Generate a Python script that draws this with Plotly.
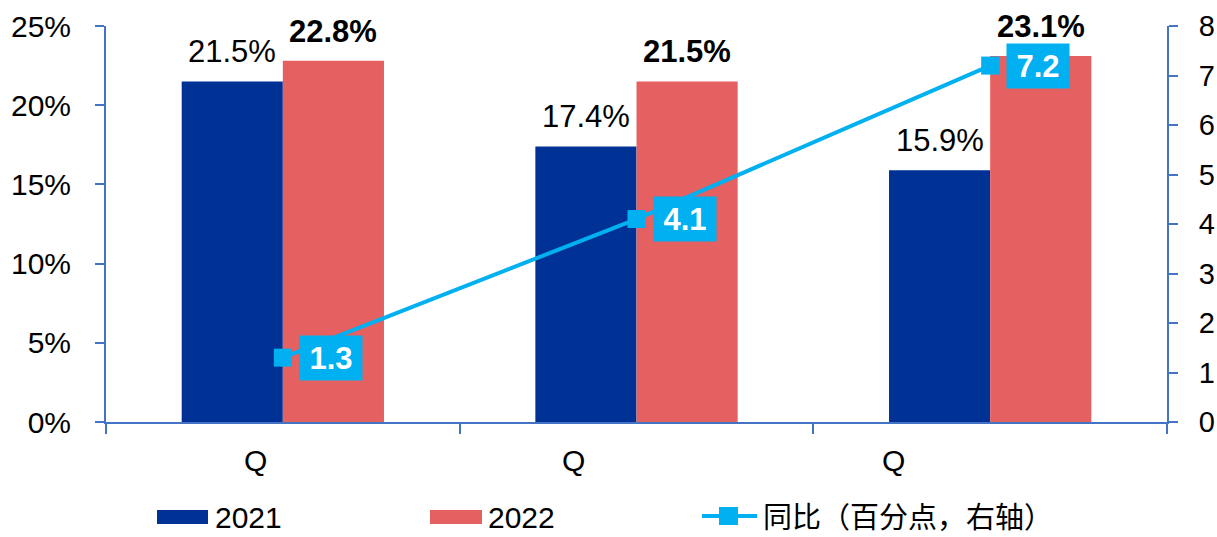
import plotly.graph_objects as go

# Data
quarters = ["Q", "Q", "Q"]
share_2021 = [21.5, 17.4, 15.9]
share_2022 = [22.8, 21.5, 23.1]
yoy_pp = [1.3, 4.1, 7.2]
series_names = ["2021", "2022", "同比（百分点，右轴）"]

BLUE = "#003296"
RED = "#E46061"
CYAN = "#00B0F0"
AXIS = "#4472C4"
FONT = "Liberation Sans, Arial, Noto Sans CJK SC, sans-serif"
CJK = "Noto Sans CJK SC, Liberation Sans, sans-serif"

x = list(range(len(quarters)))

fig = go.Figure()
fig.add_trace(go.Bar(x=x, y=share_2021, name=series_names[0], marker=dict(color=BLUE, line=dict(width=0)),
                     showlegend=False))
fig.add_trace(go.Bar(x=x, y=share_2022, name=series_names[1], marker=dict(color=RED, line=dict(width=0)),
                     showlegend=False))
fig.add_trace(go.Scatter(x=x, y=yoy_pp, name=series_names[2], yaxis="y2", mode="lines+markers",
                         line=dict(color=CYAN, width=4),
                         marker=dict(symbol="square", size=18, color=CYAN),
                         showlegend=False))

annotations = []
bar_half = 0.5 * (1 - 0.428) / 2  # centre offset of each bar within a group

for i, (a, b) in enumerate(zip(share_2021, share_2022)):
    annotations.append(dict(x=i - bar_half, y=a, xref="x", yref="y", text=f"{a:.1f}%",
                            showarrow=False, yanchor="bottom", yshift=10,
                            font=dict(family=FONT, size=31, color="#000000")))
    annotations.append(dict(x=i + bar_half, y=b, xref="x", yref="y", text=f"<b>{b:.1f}%</b>",
                            showarrow=False, yanchor="bottom", yshift=10,
                            font=dict(family=FONT, size=31, color="#000000")))

for i, v in enumerate(yoy_pp):
    annotations.append(dict(x=i, y=v, xref="x", yref="y2", text=f"<b>{v:.1f}</b>",
                            showarrow=False, xshift=48, width=62, height=44,
                            bgcolor=CYAN, borderpad=0,
                            font=dict(family=FONT, size=31, color="#FFFFFF")))

# Category labels under the axis
label_shift = [-27, -63, -97]
for i, q in enumerate(quarters):
    annotations.append(dict(x=i, y=0, xref="x", yref="paper", text=q, showarrow=False,
                            xshift=label_shift[i], yshift=-38, yanchor="middle",
                            font=dict(family=FONT, size=30, color="#000000")))

# Legend (drawn in paper space)
def py(pix):
    return 1 - (pix - 26) / (422 - 26)

def px(pix):
    return (pix - 106) / (1167 - 106)

shapes = [
    dict(type="rect", xref="paper", yref="paper", x0=px(157), x1=px(208),
         y0=py(510), y1=py(524), fillcolor=BLUE, line=dict(width=0)),
    dict(type="rect", xref="paper", yref="paper", x0=px(430), x1=px(482),
         y0=py(510), y1=py(524), fillcolor=RED, line=dict(width=0)),
    dict(type="line", xref="paper", yref="paper", x0=px(702), x1=px(757),
         y0=py(516), y1=py(516), line=dict(color=CYAN, width=4)),
    dict(type="rect", xref="paper", yref="paper", x0=px(719), x1=px(738),
         y0=py(507), y1=py(525), fillcolor=CYAN, line=dict(width=0)),
]

for xpix, name, fam, sz, ypix in [(213, series_names[0], FONT, 30, 517), (486, series_names[1], FONT, 30, 517),
                                  (761, series_names[2], CJK, 29, 515)]:
    annotations.append(dict(x=px(xpix), y=py(ypix), xref="paper", yref="paper", text=name,
                            showarrow=False, xanchor="left", yanchor="middle",
                            font=dict(family=fam, size=sz, color="#000000")))

fig.update_layout(
    width=1217, height=537,
    margin=dict(l=106, r=50, t=26, b=115, autoexpand=False),
    paper_bgcolor="white", plot_bgcolor="white",
    barmode="group", bargap=0.428, bargroupgap=0,
    showlegend=False,
    font=dict(family=FONT, size=30, color="#000000"),
    xaxis=dict(range=[-0.5, 2.5], tickvals=[-0.5, 0.5, 1.5, 2.5], showticklabels=False,
               ticks="outside", ticklen=10, tickwidth=2, tickcolor=AXIS,
               showline=True, linecolor=AXIS, linewidth=2, showgrid=False, zeroline=False,
               automargin=False),
    yaxis=dict(range=[0, 25], tickvals=[0, 5, 10, 15, 20, 25], ticktext=["0%", "5%", "10%", "15%", "20%", "25%"],
               ticks="outside", ticklen=9, tickwidth=2, tickcolor=AXIS,
               showline=True, linecolor=AXIS, linewidth=2, showgrid=False, zeroline=False,
               ticklabelstandoff=18, tickfont=dict(size=30), automargin=False),
    yaxis2=dict(range=[0, 8], dtick=1, overlaying="y", side="right",
                ticks="outside", ticklen=9, tickwidth=2, tickcolor=AXIS,
                showline=True, linecolor=AXIS, linewidth=2, showgrid=False, zeroline=False,
                ticklabelstandoff=15, tickfont=dict(size=29), automargin=False),
    annotations=annotations,
    shapes=shapes,
)

fig.write_html("out.html")
